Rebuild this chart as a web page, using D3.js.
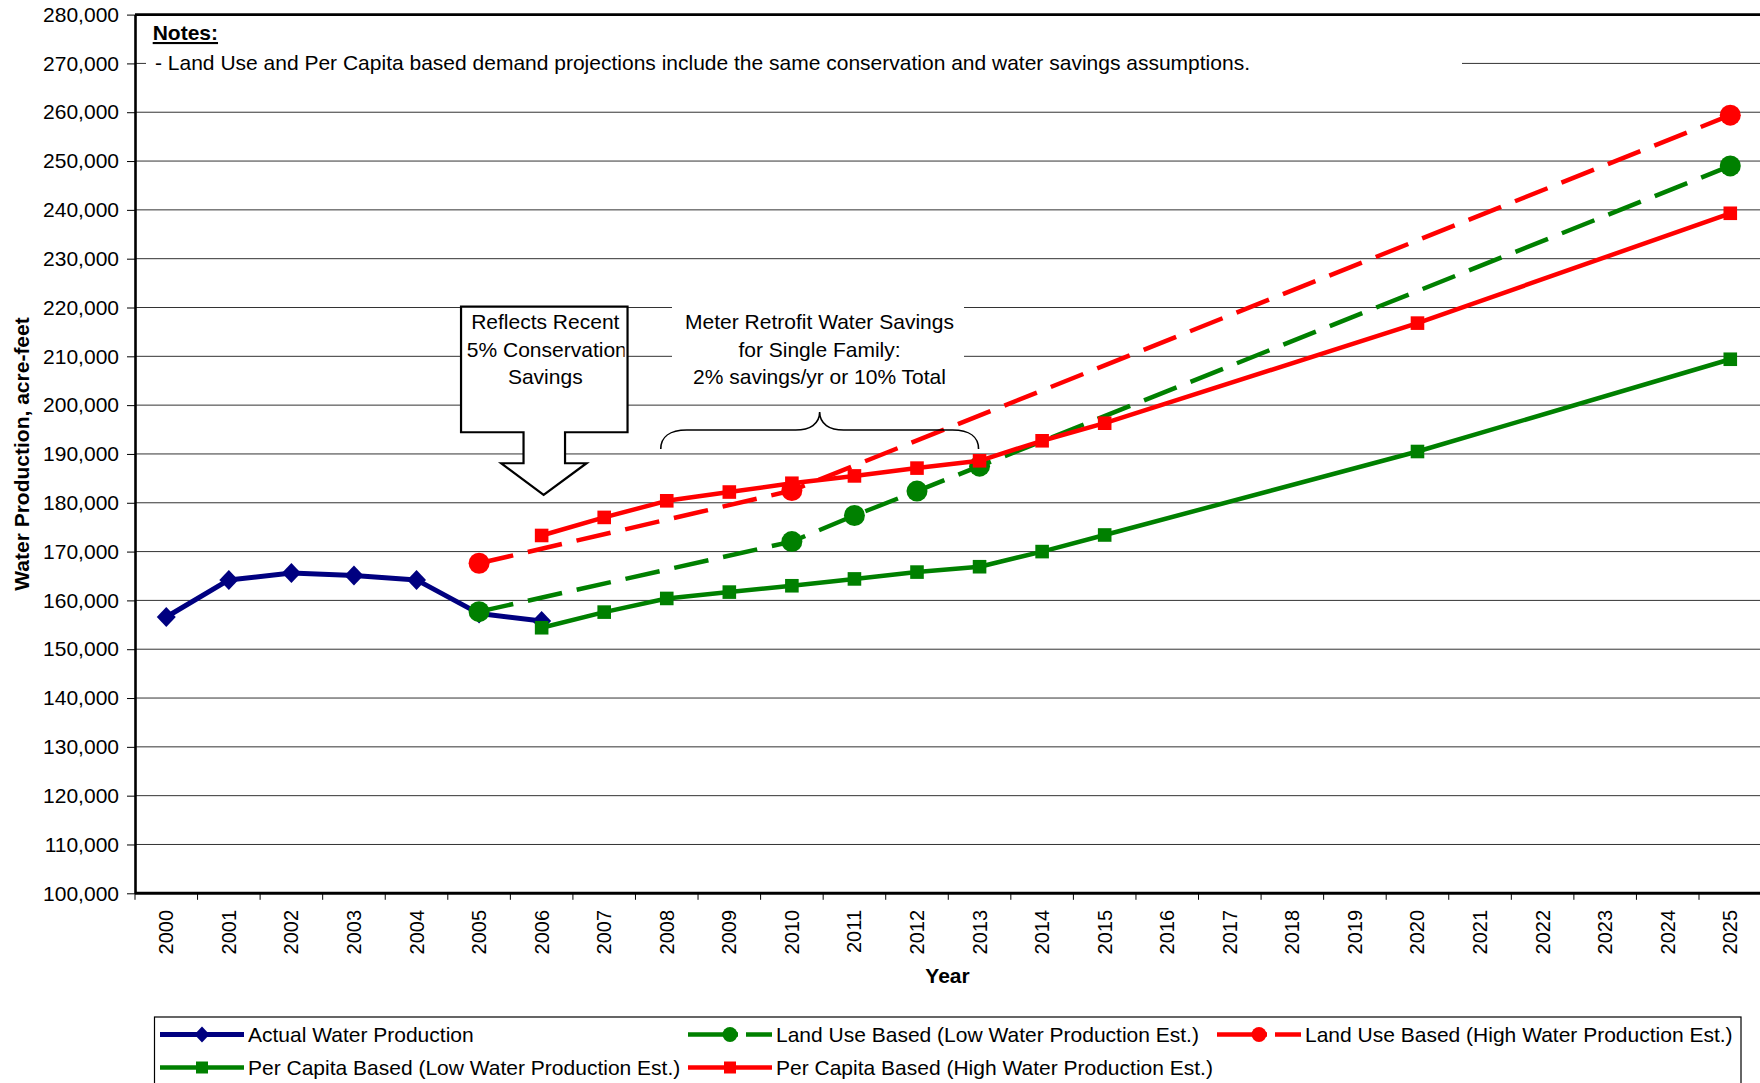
<!DOCTYPE html>
<html><head><meta charset="utf-8">
<script src="https://cdn.jsdelivr.net/npm/d3@7/dist/d3.min.js"></script>
<style>
body{margin:0;background:#fff;}
svg{display:block;font-family:"Liberation Sans",Arial,Helvetica,sans-serif;}
</style></head><body>
<svg id="chart" width="1760" height="1083"></svg>
<script>
// ---------------- DATA ----------------
const years = [2000,2001,2002,2003,2004,2005,2006,2007,2008,2009,2010,2011,2012,
               2013,2014,2015,2016,2017,2018,2019,2020,2021,2022,2023,2024,2025];
const yTickValues = [100000,110000,120000,130000,140000,150000,160000,170000,180000,
                     190000,200000,210000,220000,230000,240000,250000,260000,270000,280000];

const actualYears  = [2000,2001,2002,2003,2004,2005,2006];
const actualValues = [156600,164200,165600,165100,164200,157300,155800];

const landUseLowYears  = [2005,2010,2011,2012,2013,2025];
const landUseLowValues = [157700,172050,177400,182400,187500,249000];

const landUseHighYears  = [2005,2010,2025];
const landUseHighValues = [167600,182500,259400];

const perCapitaLowYears  = [2006,2007,2008,2009,2010,2011,2012,2013,2014,2015,2020,2025];
const perCapitaLowValues = [154400,157600,160400,161700,163000,164400,165800,166900,170000,173400,190500,209400];

const perCapitaHighYears  = [2006,2007,2008,2009,2010,2011,2012,2013,2014,2015,2020,2025];
const perCapitaHighValues = [173300,177000,180400,182200,184000,185500,187100,188600,192700,196300,216800,239300];

const seriesNames = ["Actual Water Production",
  "Land Use Based (Low Water Production Est.)",
  "Land Use Based (High Water Production Est.)",
  "Per Capita Based (Low Water Production Est.)",
  "Per Capita Based (High Water Production Est.)"];

const notesTitle = "Notes:";
const notesText = "- Land Use and Per Capita based demand projections include the same conservation and water savings assumptions.";
const calloutLines = ["Reflects Recent","5% Conservation","Savings"];
const meterLines = ["Meter Retrofit Water Savings","for Single Family:","2% savings/yr or 10% Total"];
const yTitle = "Water Production, acre-feet";
const xTitle = "Year";

// ---------------- LAYOUT ----------------
const W = 1760, H = 1083;
const plotLeft = 135, plotTop = 14.6, plotBottom = 893.3, bandW = 62.56;
const NAVY = "#000080", GREEN = "#008000", RED = "#FF0000";
const FONT = 21;

const svg = d3.select("#chart");
svg.append("rect").attr("width",W).attr("height",H).attr("fill","#fff");

const x = d3.scaleBand().domain(years).range([plotLeft, plotLeft + years.length*bandW]).padding(0);
const y = d3.scaleLinear().domain([100000,280000]).range([plotBottom, plotTop]);
const cx = yr => x(yr) + x.bandwidth()/2;

// gridlines
svg.append("g").selectAll("line").data(yTickValues.slice(1, -1)).join("line")
  .attr("x1", plotLeft).attr("x2", W)
  .attr("y1", d => y(d)).attr("y2", d => y(d))
  .attr("stroke", "#333").attr("stroke-width", 1);

// top border
svg.append("line").attr("x1", plotLeft).attr("x2", W).attr("y1", y(280000)).attr("y2", y(280000))
  .attr("stroke", "#000").attr("stroke-width", 2.6);

// notes white box (hides gridline)
svg.append("rect").attr("x", plotLeft + 11).attr("y", y(280000) + 3)
  .attr("width", 1462 - plotLeft - 11).attr("height", 84).attr("fill", "#fff");
svg.append("text").attr("x", 152.7).attr("y", 40).attr("font-size", FONT).attr("font-weight","bold")
  .attr("text-decoration","underline").text(notesTitle);
svg.append("text").attr("x", 155).attr("y", 70).attr("font-size", FONT).text(notesText);

// Y axis
const yAxisG = svg.append("g").attr("transform", `translate(${plotLeft},0)`)
  .call(d3.axisLeft(y).tickValues(yTickValues).tickFormat(d3.format(",")).tickSize(8).tickSizeOuter(0).tickPadding(8));
yAxisG.select(".domain").attr("stroke","#000").attr("stroke-width",2.6);
yAxisG.selectAll(".tick line").attr("stroke","#000").attr("stroke-width",1);
yAxisG.selectAll(".tick text").attr("font-size", FONT).attr("fill","#000")
  .attr("font-family",'"Liberation Sans",Arial,sans-serif');

// X axis
const xAxisG = svg.append("g").attr("transform", `translate(0,${plotBottom})`)
  .call(d3.axisBottom(x).tickSize(0).tickSizeOuter(0));
xAxisG.select(".domain").attr("stroke","#000").attr("stroke-width",3)
  .attr("d", `M${plotLeft},0H${W}`);
xAxisG.selectAll(".tick text").attr("font-size", 20).attr("fill","#000")
  .attr("font-family",'"Liberation Sans",Arial,sans-serif')
  .attr("transform","rotate(-90)").attr("x",-16.7).attr("y",0).attr("dy","0.35em")
  .attr("text-anchor","end");
// boundary tick marks
svg.append("g").selectAll("line").data(years.map(yr => x(yr)).concat([x(years[years.length-1]) + bandW]))
  .join("line").attr("x1", d => d).attr("x2", d => d)
  .attr("y1", plotBottom).attr("y2", plotBottom + 6.5)
  .attr("stroke","#000").attr("stroke-width",1);

// axis titles
svg.append("text").attr("x", 947.5).attr("y", 982.7).attr("text-anchor","middle")
  .attr("font-size", FONT).attr("font-weight","bold").text(xTitle);
svg.append("text").attr("transform", `translate(22,454) rotate(-90)`).attr("dy","0.35em")
  .attr("text-anchor","middle").attr("font-size", FONT).attr("font-weight","bold").text(yTitle);

// ---------------- MARKERS ----------------
function markerPath(type, s) {
  if (type === "diamond") return `M0,${-s}L${s*0.95},0L0,${s}L${-s*0.95},0Z`;
  if (type === "square") return `M${-s},${-s}H${s}V${s}H${-s}Z`;
  if (type === "circle") return d3.arc()({innerRadius:0,outerRadius:s,startAngle:0,endAngle:2*Math.PI});
}
const markerSize = {diamond: 10, square: 6.8, circle: 10.5};

function drawSeries(yrs, vals, color, width, dash, marker) {
  const pts = yrs.map((yr, i) => ({yr, v: vals[i]}));
  const g = svg.append("g");
  g.append("path").datum(pts)
    .attr("d", d3.line().x(d => cx(d.yr)).y(d => y(d.v)))
    .attr("fill","none").attr("stroke", color).attr("stroke-width", width)
    .attr("stroke-linejoin","round")
    .attr("stroke-dasharray", dash || null);
  g.selectAll("path.m").data(pts).join("path").attr("class","m")
    .attr("transform", d => `translate(${cx(d.yr)},${y(d.v)})`)
    .attr("d", markerPath(marker, markerSize[marker]))
    .attr("fill", color);
}

const DASH = "35,15";
drawSeries(actualYears, actualValues, NAVY, 5, null, "diamond");
drawSeries(landUseLowYears, landUseLowValues, GREEN, 4.5, DASH, "circle");
drawSeries(landUseHighYears, landUseHighValues, RED, 4.5, DASH, "circle");
drawSeries(perCapitaLowYears, perCapitaLowValues, GREEN, 4.5, null, "square");
drawSeries(perCapitaHighYears, perCapitaHighValues, RED, 4.5, null, "square");

// ---------------- ANNOTATIONS ----------------
// callout block arrow anchored at 2006
const tipX = cx(2006) + 2, tipY = y(181600);
const bl = tipX - 82.6, br = tipX + 83.9, bt = tipY - 188.3, bb = tipY - 62.7;
const sl = tipX - 20.1, sr = tipX + 21.4, hy = tipY - 31.7, hl = tipX - 42.4, hr = tipX + 42.9;
const calloutPts = [[bl,bt],[br,bt],[br,bb],[sr,bb],[sr,hy],[hr,hy],[tipX,tipY],[hl,hy],[sl,hy],[sl,bb],[bl,bb]];
svg.append("path").attr("d", d3.line()(calloutPts) + "Z")
  .attr("fill","#fff").attr("stroke","#000").attr("stroke-width",2.2).attr("stroke-linejoin","miter");
svg.append("clipPath").attr("id","calloutClip").append("rect")
  .attr("x", bl + 1).attr("y", bt).attr("width", br - bl - 4).attr("height", bb - bt);
const ct = svg.append("g").attr("clip-path","url(#calloutClip)");
ct.selectAll("text").data(calloutLines).join("text")
  .attr("x", (d,i) => i === 1 ? bl + 5.8 : (bl+br)/2 + 1)
  .attr("text-anchor", (d,i) => i === 1 ? "start" : "middle")
  .attr("y", (d,i) => bt + 22.5 + i*27.5)
  .attr("font-size", FONT).text(d => d);

// Meter retrofit text box
const mx = 819.5;
svg.append("rect").attr("x", 672).attr("y", y(221500)).attr("width", 292).attr("height", 92).attr("fill","#fff");
svg.selectAll("text.meter").data(meterLines).join("text").attr("class","meter")
  .attr("x", mx).attr("text-anchor","middle")
  .attr("y", (d,i) => 329 + i*27.5).attr("font-size", FONT).text(d => d);

// brace spanning 2008-2013
const L = cx(2008) - 6, R = cx(2013) - 1, M = (L + R)/2, yb = y(194900);
const braceD = `M${L},${yb+19} C${L},${yb+7} ${L+9},${yb} ${L+26},${yb} H${M-24} ` +
  `C${M-10},${yb} ${M},${yb-6} ${M},${yb-18} C${M},${yb-6} ${M+10},${yb} ${M+24},${yb} ` +
  `H${R-26} C${R-9},${yb} ${R},${yb+7} ${R},${yb+19}`;
svg.append("path").attr("d", braceD).attr("fill","none").attr("stroke","#000").attr("stroke-width",1.6);

// ---------------- LEGEND ----------------
svg.append("rect").attr("x", 154.5).attr("y", 1017).attr("width", 1586.5).attr("height", 90)
  .attr("fill","#fff").attr("stroke","#000").attr("stroke-width",1.2);
const legendItems = [
  {name: seriesNames[0], color: NAVY, dash: false, marker: "diamond", col: 0, row: 0},
  {name: seriesNames[1], color: GREEN, dash: true, marker: "circle", col: 1, row: 0},
  {name: seriesNames[2], color: RED, dash: true, marker: "circle", col: 2, row: 0},
  {name: seriesNames[3], color: GREEN, dash: false, marker: "square", col: 0, row: 1},
  {name: seriesNames[4], color: RED, dash: false, marker: "square", col: 1, row: 1}
];
const legColX = [160, 688, 1217], legRowY = [1034.5, 1067.5];
const legMarkerSize = {diamond: 8, square: 6, circle: 7.5};
const lg = svg.selectAll("g.leg").data(legendItems).join("g").attr("class","leg")
  .attr("transform", d => `translate(${legColX[d.col]},${legRowY[d.row]})`);
lg.append("line").attr("x1",0).attr("x2",84).attr("y1",0).attr("y2",0)
  .attr("stroke", d => d.color).attr("stroke-width", d => d.color === NAVY ? 5 : 4.5)
  .attr("stroke-dasharray", d => d.dash ? "50,8,40" : null);
lg.append("path").attr("transform","translate(42,0)")
  .attr("d", d => markerPath(d.marker, legMarkerSize[d.marker])).attr("fill", d => d.color);
lg.append("text").attr("x", 88).attr("y", 0).attr("dy","0.35em").attr("font-size", FONT).text(d => d.name);
</script>
</body></html>
